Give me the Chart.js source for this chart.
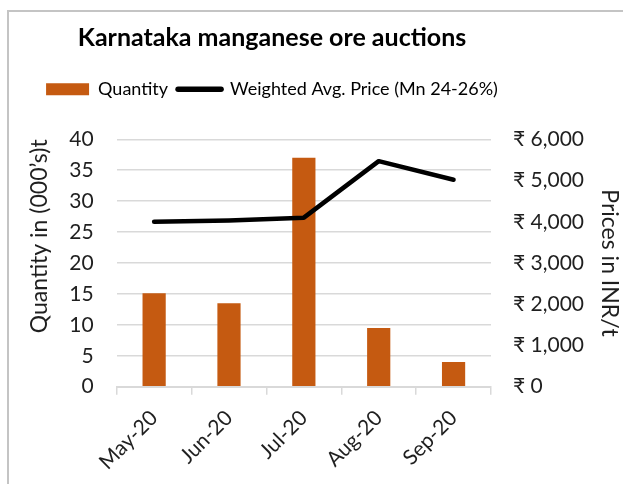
<!DOCTYPE html>
<html><head><meta charset="utf-8">
<script src="https://cdn.jsdelivr.net/npm/chart.js@4"></script>
<style>
html,body{margin:0;padding:0;background:#fff;overflow:hidden;width:623px;height:484px;}
#frame{position:absolute;left:7px;top:10px;width:700px;height:600px;border-left:2px solid #c4c4c4;border-top:2px solid #c4c4c4;}
#wrap{position:absolute;left:-79px;top:0;width:702px;height:484px;}
</style></head><body>
<div id="frame"></div>
<div id="wrap"><canvas id="c" width="702" height="484"></canvas></div>
<script>
const categories = ['May-20', 'Jun-20', 'Jul-20', 'Aug-20', 'Sep-20'];
const quantity = [15.1, 13.5, 37, 9.5, 4];
const price = [4000, 4030, 4100, 5470, 5020];
const qtyTicks = [0, 5, 10, 15, 20, 25, 30, 35, 40];
const priceTickLabels = ['₹ 0', '₹ 1,000', '₹ 2,000', '₹ 3,000', '₹ 4,000', '₹ 5,000', '₹ 6,000'];

const FONT = "Lato, 'Noto Sans', sans-serif";
const ORANGE = '#C55A11';
const TXT = '#1f1f1f';

new Chart(document.getElementById('c'), {
  data: {
    labels: categories,
    datasets: [
      { type: 'bar', label: 'Quantity', data: quantity, yAxisID: 'y',
        backgroundColor: ORANGE, barPercentage: 0.31, categoryPercentage: 1, order: 2 },
      { type: 'line', label: 'Weighted Avg. Price (Mn 24-26%)', data: price, yAxisID: 'y2',
        borderColor: '#000', backgroundColor: '#000', borderWidth: 4.5, pointRadius: 0,
        tension: 0, borderCapStyle: 'round', borderJoinStyle: 'round', order: 1 }
    ]
  },
  options: {
    responsive: false,
    animation: false,
    layout: { padding: 0 },
    plugins: {
      tooltip: { enabled: false },
      title: { display: true, text: 'Karnataka manganese ore auctions', color: '#000',
        font: { family: FONT, size: 25, weight: 'bold' }, padding: { top: 22.5, bottom: 17.8 } },
      subtitle: { display: true, text: '', weight: 500, font: { size: 10 }, padding: { top: 19, bottom: 0 } },
      legend: {
        display: true, position: 'top',
        labels: {
          usePointStyle: true, pointStyleWidth: 43, boxHeight: 12, padding: 10,
          color: '#000', font: { family: FONT, size: 18 },
          generateLabels: () => [
            { text: 'Quantity', fillStyle: ORANGE, strokeStyle: ORANGE, lineWidth: 0,
              pointStyle: 'rect', datasetIndex: 0, hidden: false, fontColor: '#000' },
            { text: 'Weighted Avg. Price (Mn 24-26%)', fillStyle: '#000', strokeStyle: '#000',
              lineWidth: 5.5, lineCap: 'round', pointStyle: 'line', datasetIndex: 1, hidden: false, fontColor: '#000' }
          ]
        }
      }
    },
    scales: {
      x: {
        offset: true,
        grid: { display: true, drawOnChartArea: false, drawTicks: true, tickLength: 8, color: '#d9d9d9', lineWidth: 1.5, offset: true },
        border: { display: true, color: '#d9d9d9', width: 2 },
        ticks: { minRotation: 45, maxRotation: 45, padding: 19, color: TXT, font: { family: FONT, size: 21, lineHeight: 0.1 } },
        afterFit: s => { s.height = 97.3; }
      },
      y: {
        position: 'left', min: 0, max: 40,
        afterBuildTicks: s => { s.ticks = qtyTicks.map(v => ({ value: v })); },
        ticks: { padding: 23, color: TXT, font: { family: FONT, size: 21 } },
        grid: { color: '#d9d9d9', lineWidth: 1.5, drawTicks: false },
        border: { display: false },
        title: { display: true, text: 'Quantity in (000’s)t', align: 'end', color: TXT,
          font: { family: FONT, size: 23 }, padding: { top: 105, bottom: 0 } },
        afterFit: s => { s.width = 195.7; }
      },
      y2: {
        position: 'right', min: 0, max: 6000,
        ticks: { stepSize: 1000, padding: 22, color: TXT, font: { family: FONT, size: 21 },
          callback: (v, i) => priceTickLabels[i] },
        grid: { display: false, drawOnChartArea: false, drawTicks: false },
        border: { display: false },
        title: { display: true, text: 'Prices in INR/t', color: TXT,
          font: { family: FONT, size: 23 }, padding: { top: 0, bottom: 0 } },
        afterFit: s => { s.width = 132; }
      }
    }
  }
});
</script>
</body></html>
